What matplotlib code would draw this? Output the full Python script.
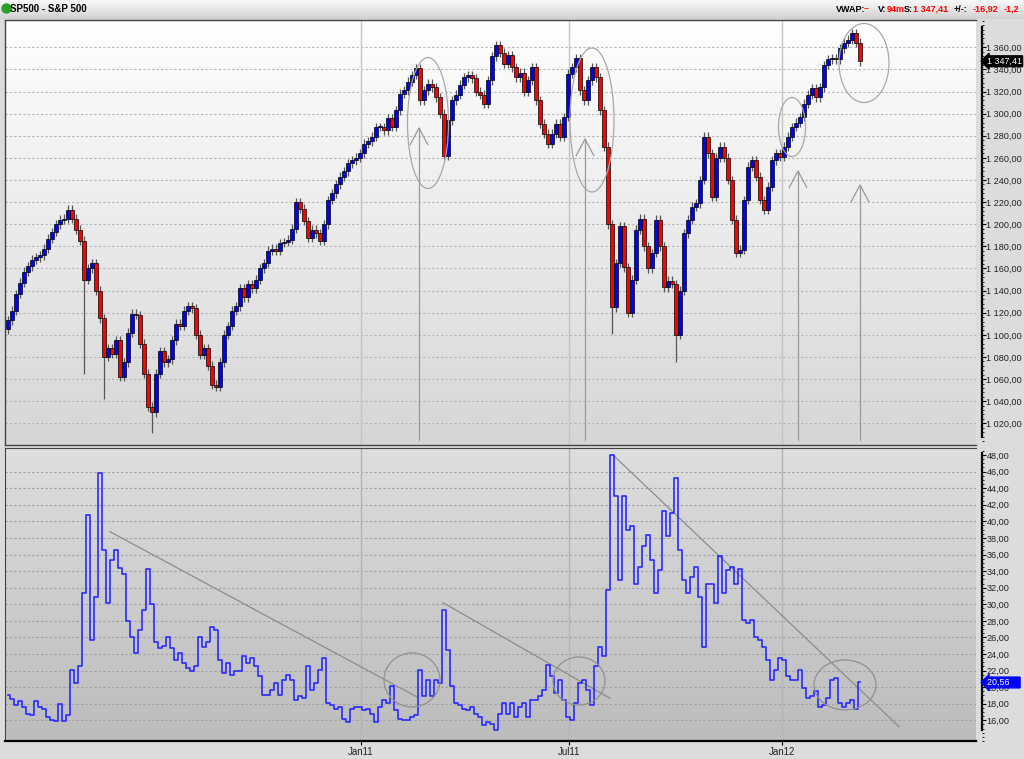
import numpy as np
import matplotlib
matplotlib.use("Agg")
import matplotlib.pyplot as plt
from matplotlib import font_manager
from matplotlib.patches import Ellipse, Circle
from matplotlib.ticker import FuncFormatter, MultipleLocator, FixedLocator
from matplotlib.transforms import blended_transform_factory

installed = {f.name for f in font_manager.fontManager.ttflist}
narrow = "Liberation Sans Narrow" if "Liberation Sans Narrow" in installed else "Liberation Sans"
plt.rcParams["font.family"] = ["Liberation Sans", "DejaVu Sans"]

# S&P 500 closes, one bar every ~2.4 trading days
closes = [
    1113, 1122, 1137, 1147, 1157, 1162, 1168, 1170, 1172, 1178,
    1187, 1193, 1200, 1204, 1205, 1213, 1205, 1195, 1185, 1150,
    1160, 1165, 1140, 1115, 1080, 1088, 1083, 1095, 1062, 1075,
    1102, 1119, 1118, 1092, 1065, 1035, 1030, 1065, 1085, 1075,
    1078, 1095, 1110, 1108, 1122, 1126, 1124, 1100, 1082, 1088,
    1072, 1055, 1053, 1075, 1100, 1108, 1122, 1126, 1142, 1134,
    1146, 1142, 1150, 1160, 1165, 1176, 1178, 1176, 1183, 1184,
    1186, 1196, 1220, 1214, 1203, 1188, 1195, 1192, 1185, 1200,
    1222, 1228, 1236,
    1243, 1248, 1255, 1258, 1260, 1264, 1273, 1275, 1279, 1288,
    1288, 1285, 1296, 1288, 1303, 1318, 1321, 1329, 1335, 1341,
    1312, 1321, 1327, 1324, 1315, 1300, 1262, 1294, 1312, 1317,
    1326, 1333, 1335, 1332, 1320, 1317, 1309, 1330, 1352, 1362,
    1355, 1345, 1353, 1342, 1333, 1337, 1320, 1330, 1342, 1312,
    1291, 1282, 1273, 1282, 1291, 1279, 1297, 1336, 1342, 1350,
    1321, 1312, 1330, 1342, 1333, 1303, 1270, 1200, 1125, 1165,
    1198, 1161, 1120, 1150, 1195, 1205, 1180, 1160,
    1174, 1204, 1180, 1143, 1149, 1146, 1100, 1140, 1192, 1204,
    1216, 1219, 1240, 1279, 1264, 1225, 1260, 1270, 1260, 1240,
    1204, 1174, 1177, 1222, 1252, 1258, 1243, 1222, 1213, 1234,
    1258, 1264, 1261, 1270, 1279, 1288, 1292, 1297, 1309, 1317,
    1323, 1315, 1324, 1344, 1349, 1350, 1349, 1359, 1364, 1367,
    1373, 1364, 1347.41,
]
first_open = 1105
# bars with long lower shadows: (bar number, low)
long_lows = [(19, 1065), (24, 1042), (36, 1011), (151, 1101), (167, 1075)]

# VIX closes on the same bars
vix = [
    19.1, 18.6, 17.9, 18.3, 17.6, 16.8, 16.6, 18.3, 17.6, 17.4,
    16.4, 16.0, 15.9, 18.0, 15.9, 16.6, 22.1, 20.5, 22.5, 31.3,
    40.8, 25.7, 30.9, 45.8, 36.6, 30.1, 35.3, 36.6, 34.4, 33.7,
    28.0, 26.1, 24.1, 26.9, 29.3, 34.3, 30.0, 25.5, 24.7, 25.0,
    26.1, 24.7, 23.3, 24.1, 22.9, 22.3, 21.9, 22.5, 26.1, 24.9,
    25.5, 27.3, 26.9, 23.3, 21.7, 22.9, 21.5, 21.9, 21.9, 23.7,
    22.9, 23.5, 22.5, 21.3, 19.1, 19.1, 19.7, 20.5, 19.1, 20.9,
    21.5, 20.9, 18.5, 18.9, 18.7, 22.5, 19.7, 20.5, 22.1, 23.5,
    18.05, 17.9, 17.4, 17.6, 16.2, 15.8, 17.4, 17.6, 17.6, 17.2,
    17.4, 16.8, 15.8, 17.6, 18.5, 18.05, 20.1, 17.2, 16.2, 16.0,
    16.0, 16.4, 16.6, 22.1, 18.9, 20.9, 18.9, 20.9, 20.5, 29.3,
    24.5, 20.1, 18.05, 17.9, 17.4, 17.2, 17.6, 16.8, 16.4, 15.4,
    15.8,
    15.6, 14.8, 16.8, 18.05, 16.8, 18.05, 16.4, 17.6, 18.05, 16.4,
    18.5, 18.5, 18.9, 19.7, 22.7, 21.3, 19.3, 20.9, 18.5, 16.4,
    16.0, 18.05, 20.5, 20.9, 19.7, 17.9, 22.5, 24.9, 23.7, 31.7,
    48.0, 43.0, 32.9, 43.0, 39.0, 39.4, 32.5, 34.5, 37.0, 38.4,
    35.3, 31.3, 34.1, 41.2, 38.2, 41.0, 45.2, 36.6, 32.9, 31.3,
    33.3, 34.5, 30.9, 24.9, 32.5, 32.5, 30.1, 35.8, 31.3, 34.1,
    34.5, 32.5, 34.3, 28.1, 27.7, 28.1, 26.1, 25.7, 24.9, 23.3,
    20.9, 22.1, 23.5, 23.3, 21.3, 20.9, 20.9, 22.1, 19.9, 18.7,
    18.9, 19.5, 17.6, 17.9, 18.7, 20.9, 21.1, 18.05, 17.6, 18.05,
    18.5, 17.4, 20.56,
]

date_labels = ["Jan11", "Jul11", "Jan12"]
date_pos = [88.2, 140.2, 193.6]   # bar number where each month starts
price_ticks = list(range(1020, 1361, 20))
vix_ticks = list(range(16, 49, 2))

W, H = 1024, 759
XLIM = (-0.75, 242.0)

def px_to_x(px):
    return XLIM[0] + (px - 5) / 971 * (XLIM[1] - XLIM[0])

fig = plt.figure(figsize=(W / 100, H / 100), dpi=100)
fig.patch.set_facecolor("#dcdcdc")

def add_ax(left, top, right, bottom):
    return fig.add_axes([left / W, 1 - bottom / H, (right - left) / W, (bottom - top) / H])

def gradient(ax, c_top, c_bot):
    top = np.array(matplotlib.colors.to_rgb(c_top))
    bot = np.array(matplotlib.colors.to_rgb(c_bot))
    t = np.linspace(0, 1, 256)[:, None]
    img = (top * (1 - t) + bot * t)[:, None, :]
    ax.imshow(img, aspect="auto", extent=(0, 1, 0, 1), transform=ax.transAxes,
              zorder=0, interpolation="bilinear")

# header bar
hdr = add_ax(0, 0, 1024, 19)
gradient(hdr, "#fafafa", "#d0d0d0")
hdr.set_xlim(0, W)
hdr.set_ylim(19, 0)
hdr.axis("off")
hdr.add_patch(Circle((6.5, 8.5), 4.5, color="#2aa02a", zorder=3))
hdr.text(10, 9, "SP500 - S&P 500", fontsize=7, fontweight="bold", family=narrow, va="center", zorder=4)
parts = [(836, "VWAP:", "black"), (864, "--", "red"), (878, "V:", "black"), (887, "94m", "red"),
         (904, "S:", "black"), (913, "1 347,41", "red"), (954, "+/-:", "black"),
         (973, "-16,92", "red"), (1004, "-1,2", "red")]
for xx, s, c in parts:
    hdr.text(xx, 9, s, fontsize=6.5, fontweight="bold", family=narrow, color=c, va="center", zorder=4)

# ---------- price panel ----------
ax = add_ax(5, 20, 976, 445)
gradient(ax, "#ffffff", "#d6d6d6")
ax.set_xlim(*XLIM)
ax.set_ylim(1000.4, 1384.7)

n = len(closes)
opens = [first_open] + closes[:-1]
lows_fix = dict(long_lows)
for i in range(n):
    o, c = opens[i], closes[i]
    hi = max(o, c) + 4
    lo = lows_fix.get(i, min(o, c) - 4)
    ax.vlines(i, lo, hi, color="#555555", lw=0.9, zorder=3)
    col = "#0000ff" if c >= o else "#ff0000"
    ax.bar(i, max(abs(c - o), 1.2), bottom=min(o, c), width=0.78, color=col,
           edgecolor="black", linewidth=0.5, zorder=4)

for y in price_ticks:
    ax.axhline(y, color="#b4b4b4", lw=0.8, ls=(0, (2, 2)), zorder=1)
for p in date_pos:
    ax.axvline(p, color="#c4c4c4", lw=1, zorder=1)

# annotations in the price panel
ann = dict(color="#999999", lw=0.9, zorder=5)
for cx, cy, w, h in [(428, 123, 41, 131), (592, 120, 44, 144), (792, 127, 27, 59), (864, 63, 50, 79)]:
    x0 = px_to_x(cx)
    y0 = 1360 - (cy - 47.3) / 1.106
    ax.add_patch(Ellipse((x0, y0), w / 4, h / 1.106, fill=False, ec="#a8a8a8", lw=0.9, zorder=5))
for ax_px, tip_px in [(419, 128), (585, 139), (798, 171), (860, 185)]:
    x0 = px_to_x(ax_px)
    ytip = 1360 - (tip_px - 47.3) / 1.106
    ybase = 1360 - (440 - 47.3) / 1.106
    ax.plot([x0, x0], [ybase, ytip], **ann)
    ax.plot([x0 - 2.2, x0, x0 + 2.2], [ytip - 15, ytip, ytip - 15], **ann)

ax.set_xticks([])
ax.yaxis.tick_right()
ax.yaxis.set_major_locator(FixedLocator(price_ticks))
ax.yaxis.set_minor_locator(MultipleLocator(4))
ax.yaxis.set_major_formatter(FuncFormatter(lambda v, p: f"{int(v) // 1000} {int(v) % 1000:03d},00"))
ax.tick_params(axis="y", which="major", labelsize=6.6, length=3, pad=0.5, colors="black", labelcolor="#222222")
ax.tick_params(axis="y", which="minor", length=1.5)
for s in ["top", "left", "bottom"]:
    ax.spines[s].set_color("#444444")
    ax.spines[s].set_linewidth(1)
ax.spines["right"].set_position(("outward", 4))
ax.spines["right"].set_linewidth(1.6)
ax.spines["right"].set_bounds(1008, 1378)

tr = blended_transform_factory(ax.transAxes, ax.transData)
ax.text(1.011, closes[-1], "1 347,41", transform=tr, fontsize=6.4, color="white", va="center",
        bbox=dict(boxstyle="larrow,pad=0.1", fc="black", ec="black"), zorder=10, clip_on=False)

# ---------- VIX panel ----------
bx = add_ax(5, 448, 976, 741)
gradient(bx, "#dedede", "#bcbcbc")
bx.set_xlim(*XLIM)
bx.set_ylim(13.5, 48.85)
bx.step(np.arange(len(vix)), vix, where="mid", color="#2a2aff", lw=1.2, zorder=4)

for y in vix_ticks[:-1]:
    bx.axhline(y, color="#a0a0a0", lw=0.8, ls=(0, (2, 2)), zorder=1)
for p in date_pos:
    bx.axvline(p, color="#b4b4b4", lw=1, zorder=1)

def py_v(py):
    return 16 + (720.3 - py) / 8.29

for (x1, y1), (x2, y2) in [((110, 531.7), (417, 697)), ((443, 602.7), (610, 698.3)), ((613, 455), (899, 726.7))]:
    bx.plot([px_to_x(x1), px_to_x(x2)], [py_v(y1), py_v(y2)], color="#8c8c8c", lw=0.9, zorder=3)
for cx, cy, w, h in [(412, 680, 56, 54), (579, 681, 52, 48), (845, 685, 62, 50)]:
    bx.add_patch(Ellipse((px_to_x(cx), py_v(cy)), w / 4, h / 8.29, fill=False, ec="#909090", lw=0.9, zorder=5))

bx.yaxis.tick_right()
bx.yaxis.set_major_locator(FixedLocator(vix_ticks))
bx.yaxis.set_minor_locator(MultipleLocator(0.5))
bx.yaxis.set_major_formatter(FuncFormatter(lambda v, p: f"{int(v)},00"))
bx.tick_params(axis="y", which="major", labelsize=6.6, length=3, pad=0.5, labelcolor="#222222")
bx.tick_params(axis="y", which="minor", length=1.5)
bx.set_xticks(date_pos)
bx.set_xticklabels(date_labels)
bx.tick_params(axis="x", labelsize=7, length=3, pad=1, labelcolor="#222222")
for s in ["top", "left"]:
    bx.spines[s].set_color("#444444")
bx.spines["bottom"].set_linewidth(1.6)
bx.spines["right"].set_position(("outward", 4))
bx.spines["right"].set_linewidth(1.6)
bx.spines["right"].set_bounds(14.8, 48.3)

trb = blended_transform_factory(bx.transAxes, bx.transData)
bx.text(1.011, vix[-1], "20,56    ", transform=trb, fontsize=6.4, color="white", va="center",
        bbox=dict(boxstyle="larrow,pad=0.1", fc="#0000ff", ec="#0000ff"), zorder=10, clip_on=False)

fig.savefig("out.png", dpi=100, facecolor=fig.get_facecolor())
